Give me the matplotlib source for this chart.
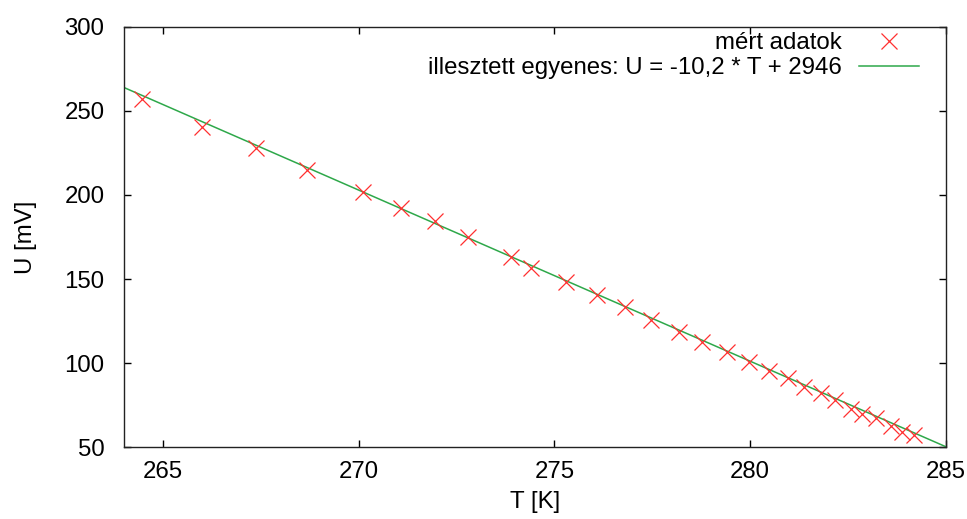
import matplotlib
matplotlib.use("Agg")
import matplotlib.pyplot as plt
import numpy as np

plt.rcParams['font.family'] = ['Liberation Sans', 'DejaVu Sans']

# measured data
T = [264.45, 265.99, 267.37, 268.68, 270.10, 271.09, 271.96, 272.80, 273.88, 274.40,
     275.29, 276.10, 276.80, 277.48, 278.19, 278.78, 279.40, 279.98, 280.48, 280.97,
     281.37, 281.80, 282.17, 282.59, 282.87, 283.21, 283.61, 283.88, 284.19]
U = [257.0, 240.7, 227.8, 214.9, 202.0, 192.1, 184.7, 175.2, 162.9, 156.4,
     148.4, 140.5, 133.2, 125.6, 118.6, 112.7, 106.7, 100.8, 95.2, 90.9,
     85.5, 82.0, 78.0, 72.4, 69.6, 67.1, 62.5, 59.1, 57.1]

# fitted line parameters
slope = -10.18
intercept = 2951.5
fit_label = "illesztett egyenes: U = -10,2 * T + 2946"
data_label = "mért adatok"

xticks = [265, 270, 275, 280, 285]
yticks = [50, 100, 150, 200, 250, 300]

fig = plt.figure(figsize=(9.67, 5.19), dpi=100)
ax = fig.add_axes([0.1282, 0.1387, 0.978 - 0.1282, 0.948 - 0.1387])

ax.plot(T, U, linestyle='none', marker='x', color='#ff3030', markersize=12,
        markeredgewidth=0.9, label=data_label, zorder=3)
tl = np.linspace(264, 285, 200)
ax.plot(tl, slope * tl + intercept, color='#2ea84a', linewidth=1.1, label=fit_label, zorder=2)

ax.set_xlim(264, 285)
ax.set_ylim(50, 300)
ax.set_xticks(xticks)
ax.set_yticks(yticks)
fs = 17.3
ax.tick_params(direction='in', length=5, width=1, top=True, right=True,
               labelsize=fs, colors='black')
ax.tick_params(axis='y', pad=14)
ax.tick_params(axis='x', pad=10)
for s in ax.spines.values():
    s.set_linewidth(1.0)
    s.set_color('#222222')

ax.set_xlabel("T [K]", fontsize=fs, labelpad=6)
ax.set_ylabel("U [mV]", fontsize=fs, labelpad=20)

leg = ax.legend(loc='upper right', bbox_to_anchor=(0.9675, 0.988), frameon=False,
                markerfirst=False, fontsize=fs, handlelength=2.5, handletextpad=0.7,
                labelspacing=0.12, borderpad=0, borderaxespad=0)
for t in leg.get_texts():
    t.set_ha('right')
leg._legend_box.align = "right"

fig.savefig("out.png", dpi=100)
